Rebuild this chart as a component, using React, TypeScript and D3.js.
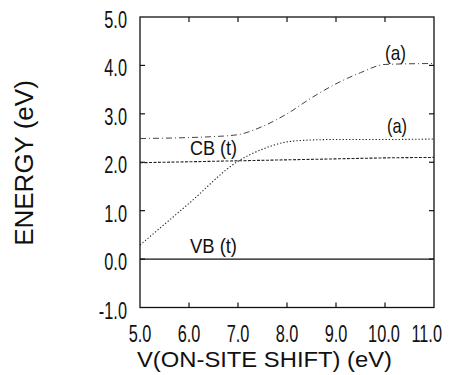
import React from 'react';
import * as d3 from 'd3';

// energy levels vs on-site shift V
const vbX = [5, 11];
const vbE = [0, 0];
const lowX = [5, 6, 7, 8, 9, 10, 11];
const lowE = [1.99, 2.01, 2.03, 2.05, 2.07, 2.09, 2.1];
const cbX = [5, 6, 7, 7.25, 7.5, 8, 8.5, 9, 10, 11];
const cbE = [0.29, 1.15, 2.02, 2.16, 2.27, 2.42, 2.46, 2.47, 2.47, 2.48];
const topX = [5, 6, 6.5, 7, 7.5, 8, 8.5, 9, 9.5, 10, 11];
const topE = [2.49, 2.51, 2.53, 2.57, 2.74, 3.0, 3.33, 3.62, 3.85, 4.02, 4.04];

const xTicks = [5, 6, 7, 8, 9, 10, 11];
const yTicks = [-1, 0, 1, 2, 3, 4, 5];

const W = 454;
const H = 375;
const left = 140, right = 434, top = 17, bottom = 307.5;
const FONT = '"Liberation Sans", Arial, sans-serif';

// tall narrow numbers like the old plotting font
const Num = ({ x, y, v, anchor }: any) => (
  <g transform={`translate(${x},${y}) scale(0.86,1.26)`}>
    <text x={0} y={0} textAnchor={anchor} fontFamily={FONT} fontSize={19} fill="#111">
      {v.toFixed(1)}
    </text>
  </g>
);

const Lbl = ({ x, y, len, children }: any) => (
  <text x={x} y={y} textLength={len} lengthAdjust="spacingAndGlyphs"
    fontFamily={FONT} fontSize={21} fill="#111">{children}</text>
);

const App = () => {
  const x = d3.scaleLinear().domain([5, 11]).range([left, right]);
  const y = d3.scaleLinear().domain([-1, 5]).range([bottom, top]);

  const line = (xs: number[], es: number[]) =>
    d3.line<number>()
      .x((d, i) => x(xs[i]))
      .y(d => y(d))
      .curve(d3.curveMonotoneX)(es) || '';

  const tl = 5;

  return (
    <svg width={W} height={H} style={{ position: 'absolute', left: 0, top: 0, background: '#fff' }}>
      <rect x={left} y={top} width={right - left} height={bottom - top} fill="none" stroke="#111" strokeWidth={1.3} />

      {xTicks.slice(1, -1).map(t => (
        <g key={'xt' + t}>
          <line x1={x(t)} x2={x(t)} y1={bottom} y2={bottom - tl} stroke="#111" strokeWidth={1.2} />
          <line x1={x(t)} x2={x(t)} y1={top} y2={top + tl} stroke="#111" strokeWidth={1.2} />
        </g>
      ))}
      {yTicks.slice(1, -1).map(t => (
        <g key={'yt' + t}>
          <line x1={left} x2={left + tl} y1={y(t)} y2={y(t)} stroke="#111" strokeWidth={1.2} />
          <line x1={right} x2={right - tl} y1={y(t)} y2={y(t)} stroke="#111" strokeWidth={1.2} />
        </g>
      ))}

      {xTicks.map((t, i) => (
        i === xTicks.length - 1
          ? <Num key={'xl' + t} x={x(t) + 8} y={342} v={t} anchor="end" />
          : <Num key={'xl' + t} x={x(t) - (t === 10 ? 1 : 0)} y={342} v={t} anchor="middle" />
      ))}
      {yTicks.map(t => (
        <Num key={'yl' + t} x={127} y={y(t) + 11} v={t} anchor="end" />
      ))}

      <text x={137} y={367} textLength={255} lengthAdjust="spacingAndGlyphs"
        fontFamily={FONT} fontSize={22} fill="#111">
        V(ON-SITE SHIFT) (eV)
      </text>
      <text transform="translate(33,163) rotate(-90)" textAnchor="middle"
        fontFamily={FONT} fontSize={26} fill="#111">
        ENERGY (eV)
      </text>

      <path d={line(vbX, vbE)} fill="none" stroke="#111" strokeWidth={1.2} />
      <path d={line(lowX, lowE)} fill="none" stroke="#222" strokeWidth={1.1} strokeDasharray="3,1.5" />
      <path d={line(cbX, cbE)} fill="none" stroke="#222" strokeWidth={1.1} strokeDasharray="1.3,2" />
      <path d={line(topX, topE)} fill="none" stroke="#444" strokeWidth={1} strokeDasharray="6,3,1,3" />

      <Lbl x={190} y={155} len={47}>CB (t)</Lbl>
      <Lbl x={190} y={253} len={47}>VB (t)</Lbl>
      <Lbl x={387} y={133} len={20}>(a)</Lbl>
      <Lbl x={385} y={60} len={21}>(a)</Lbl>
    </svg>
  );
};

export default App;
